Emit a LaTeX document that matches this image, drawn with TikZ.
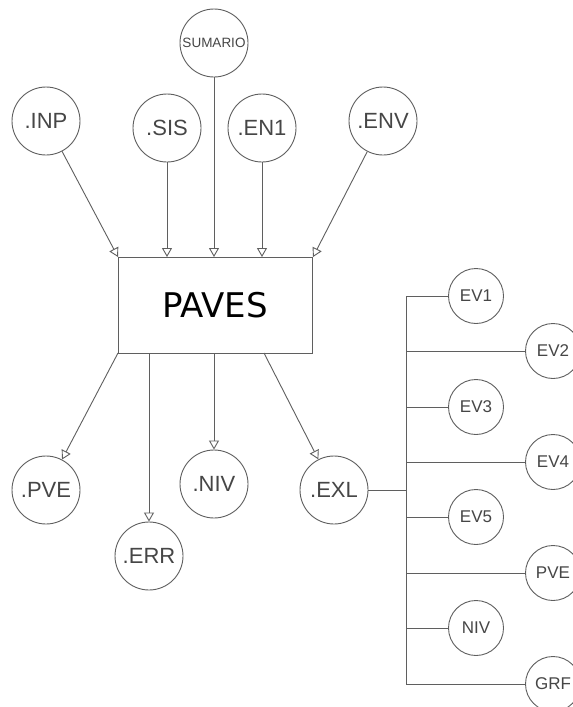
\documentclass[tikz,border=0pt]{standalone}
\usepackage{fontspec}
\setmainfont{Liberation Sans}
\newfontfamily\pavesfont{DejaVu Sans}
\usetikzlibrary{arrows.meta}
\definecolor{ln}{RGB}{95,95,95}
\definecolor{tx}{RGB}{70,70,70}
\tikzset{
  bub/.style={circle,draw=ln,line width=0.9pt,minimum size=68pt,inner sep=0pt,text=tx,font=\fontsize{22}{22}\selectfont},
  sbub/.style={circle,draw=ln,line width=0.9pt,minimum size=55pt,inner sep=0pt,text=tx,font=\fontsize{17}{17}\selectfont},
  conn/.style={draw=ln,line width=0.9pt},
  arr/.style={conn,-{Triangle[open,length=9pt,width=10pt]}},
}
\begin{document}
\begin{tikzpicture}[x=1pt,y=-1pt]
\clip (0,0) rectangle (573,707);
\fill[white] (0,0) rectangle (573,707);
% top inputs
\node[bub] (inp) at (46,121) {.INP};
\node[bub] (sis) at (167,128) {.SIS};
\node[bub,font=\fontsize{13.5}{13.5}\selectfont] (sum) at (214,43) {SUMARIO};
\node[bub] (en1) at (262,128) {.EN1};
\node[bub] (env) at (383,121) {.ENV};
% main box
\node[draw=ln,line width=0.9pt,minimum width=194pt,minimum height=96pt,inner sep=0pt,
      font=\pavesfont\fontsize{34}{34}\selectfont] (pav) at (215,305) {PAVES};
\coordinate (tinp) at (118,257);
\coordinate (tsis) at (167,257);
\coordinate (tsum) at (214,257);
\coordinate (ten1) at (262,257);
\coordinate (tenv) at (313,257);
\draw[arr] (inp) -- (tinp);
\draw[arr] (sis) -- (tsis);
\draw[arr] (sum) -- (tsum);
\draw[arr] (en1) -- (ten1);
\draw[arr] (env) -- (tenv);
% outputs
\node[bub] (pve) at (46,490) {.PVE};
\node[bub] (err) at (149,556) {.ERR};
\node[bub] (niv) at (214,484) {.NIV};
\node[bub] (exl) at (334,490) {.EXL};
\coordinate (bpve) at (118,353);
\coordinate (berr) at (149,353);
\coordinate (bniv) at (214,353);
\coordinate (bexl) at (264,353);
\draw[arr] (bpve) -- (pve);
\draw[arr] (berr) -- (err);
\draw[arr] (bniv) -- (niv);
\draw[arr] (bexl) -- (exl);
% right tree
\coordinate (jt) at (406,296);
\coordinate (jb) at (406,684);
\coordinate (jm) at (406,490);
\draw[conn] (jt) -- (jb);
\draw[conn] (exl) -- (jm);
\node[sbub] (ev1) at (476,296) {EV1};
\node[sbub] (ev2) at (553,351) {EV2};
\node[sbub] (ev3) at (476,407) {EV3};
\node[sbub] (ev4) at (553,462) {EV4};
\node[sbub] (ev5) at (476,517) {EV5};
\node[sbub] (pv2) at (553,573) {PVE};
\node[sbub] (nv2) at (476,628) {NIV};
\node[sbub] (grf) at (553,684) {GRF};
\foreach \n in {ev1,ev2,ev3,ev4,ev5,pv2,nv2,grf}{
  \draw[conn] (406,0 |- \n.west) -- (\n.west);
}
\end{tikzpicture}
\end{document}
